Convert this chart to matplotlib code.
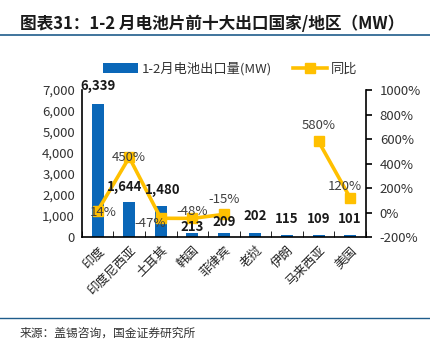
import matplotlib.pyplot as plt
import numpy as np

plt.rcParams['font.family'] = ['Noto Sans CJK SC', 'DejaVu Sans']

countries = ['印度', '印度尼西亚', '土耳其', '韩国', '菲律宾', '老挝', '伊朗', '马来西亚', '美国']
export_mw = [6339, 1644, 1480, 213, 209, 202, 115, 109, 101]
yoy = [14, 450, -47, -48, -15, np.nan, np.nan, 580, 120]

bar_color = '#0A67B8'
line_color = '#FFC000'

fig = plt.figure(figsize=(4.31, 3.45), dpi=100)

# title + rules
fig.text(0.047, 0.93, '图表31：1-2 月电池片前十大出口国家/地区（MW）', fontsize=12,
         fontweight='bold', color='#1a1a1a', va='center')
fig.add_artist(plt.Line2D([0.0, 1.0], [0.899, 0.899], color='#1F5C8B', lw=1.2))
fig.add_artist(plt.Line2D([0.0, 1.0], [0.079, 0.079], color='#1F5C8B', lw=1.0))
fig.text(0.046, 0.035, '来源：盖锡咨询，国金证券研究所', fontsize=8.5, color='#333333', va='center')

ax = fig.add_axes([0.19, 0.313, 0.659, 0.426])
x = np.arange(len(countries))
ax.bar(x, export_mw, width=0.38, color=bar_color, label='1-2月电池出口量(MW)', zorder=2)
ax.set_ylim(0, 7000)
ax.set_xlim(-0.5, len(countries) - 0.5)
ax.set_yticks(np.arange(0, 7001, 1000))
ax.set_yticklabels([f'{v:,}' for v in range(0, 7001, 1000)], fontsize=9.5, color='#333333')
ax.tick_params(axis='y', length=0, pad=5)
ax.set_xticks(x)
ax.set_xticklabels(countries, rotation=45, ha='right', rotation_mode='anchor', fontsize=9,
                   color='#222222')
ax.tick_params(axis='x', length=0, pad=5)
ax.set_xticks(np.arange(-0.5, len(countries), 1), minor=True)
ax.tick_params(axis='x', which='minor', direction='in', length=4, color='black')
ax.spines['top'].set_visible(False)
ax.spines['right'].set_visible(False)
for s in ['left', 'bottom']:
    ax.spines[s].set_linewidth(1.2)

ax2 = ax.twinx()
ax2.plot(x, yoy, color=line_color, lw=2.6, marker='s', markersize=7, label='同比', zorder=3)
ax2.set_ylim(-200, 1000)
ax2.set_yticks(np.arange(-200, 1001, 200))
ax2.set_yticklabels([f'{v}%' for v in range(-200, 1001, 200)], fontsize=9.5, color='#333333')
ax2.tick_params(axis='y', direction='out', length=4, width=1.2, pad=6)
ax2.spines['top'].set_visible(False)
ax2.spines['left'].set_visible(False)
ax2.spines['bottom'].set_visible(False)
ax2.spines['right'].set_linewidth(1.2)

pct_off = [(6, -2), (0, 0), (-11, -5), (0, 7), (0, 15), (0, 0), (0, 0), (0, 16), (-5, 11)]
for xi, v, off in zip(x, yoy, pct_off):
    if np.isnan(v):
        continue
    ax2.annotate(f'{v:.0f}%', (xi, v), xytext=off, textcoords='offset pixels',
                 ha='center', va='center', fontsize=9.5, color='#404040', zorder=4)

# bar value labels drawn above the line
bar_label_off = [(0, 18), (-5, 15), (2, 16), (0, 6), (0, 11), (0, 17), (0, 16), (0, 16), (0, 16)]
for xi, v, off in zip(x, export_mw, bar_label_off):
    ax2.annotate(f'{v:,}', (xi, v), xycoords=ax.transData, xytext=off,
                 textcoords='offset pixels', ha='center', va='center', fontsize=9.5,
                 fontweight='bold', color='#1a1a1a', zorder=5)

h1, l1 = ax.get_legend_handles_labels()
h2, l2 = ax2.get_legend_handles_labels()
fig.legend(h1 + h2, l1 + l2, loc='center', bbox_to_anchor=(0.535, 0.8), ncol=2, frameon=False,
           fontsize=9.5, handlelength=2.6, handletextpad=0.3, columnspacing=1.6,
           labelcolor='#333333')

fig.savefig('out.png', dpi=100)
